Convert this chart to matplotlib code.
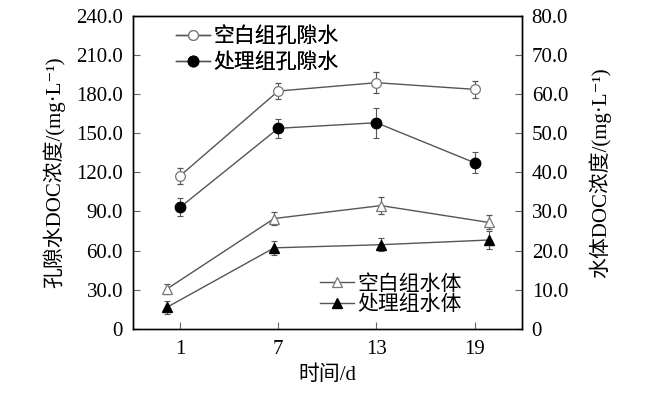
import matplotlib
matplotlib.use("Agg")
import matplotlib.pyplot as plt

plt.rcParams['font.family'] = ['Liberation Serif', 'Noto Sans CJK SC', 'DejaVu Serif']
plt.rcParams['font.size'] = 15

# data
days = [1, 7, 13, 19]
days_water = [0.2, 6.75, 13.28, 19.86]

blank_pore = [117.4, 182.4, 188.8, 183.7]
blank_pore_err = [6.1, 6.4, 8.1, 6.4]
treat_pore = [93.2, 153.8, 158.1, 127.4]
treat_pore_err = [6.8, 7.2, 11.5, 8.1]

blank_water = [10.2, 28.2, 31.5, 27.2]
blank_water_err = [1.2, 1.7, 2.2, 1.8]
treat_water = [5.5, 20.7, 21.5, 22.7]
treat_water_err = [1.6, 1.8, 1.6, 2.4]

left_ticks = [0, 30, 60, 90, 120, 150, 180, 210, 240]
left_labels = ["0", "30.0", "60.0", "90.0", "120.0", "150.0", "180.0", "210.0", "240.0"]
right_ticks = [0, 10, 20, 30, 40, 50, 60, 70, 80]
right_labels = ["0", "10.0", "20.0", "30.0", "40.0", "50.0", "60.0", "70.0", "80.0"]

line_c = "#555555"
edge_c = "#777777"

fig = plt.figure(figsize=(6.46, 3.99), dpi=100)
ax = fig.add_axes([0.2054, 0.176, 0.6026, 0.784])
ax2 = ax.twinx()

eb = dict(ecolor=line_c, elinewidth=0.8, capsize=2.5, capthick=0.8)

h1 = ax.errorbar(days, blank_pore, yerr=blank_pore_err, color=line_c, lw=1,
                 marker="o", ms=7, mfc="white", mec=edge_c, mew=0.9, **eb)
h2 = ax.errorbar(days, treat_pore, yerr=treat_pore_err, color=line_c, lw=1,
                 marker="o", ms=7.5, mfc="black", mec="black", **eb)
h3 = ax2.errorbar(days_water, blank_water, yerr=blank_water_err, color=line_c, lw=1,
                  marker="^", ms=7.5, mfc="white", mec=edge_c, mew=0.9, **eb)
h4 = ax2.errorbar(days_water, treat_water, yerr=treat_water_err, color=line_c, lw=1,
                  marker="^", ms=7.5, mfc="black", mec="black", **eb)

ax.set_xlim(-1.9, 21.9)
ax.set_ylim(0, 240)
ax2.set_ylim(0, 80)
ax.set_xticks(days)
ax.set_xticklabels([str(d) for d in days])
ax.set_yticks(left_ticks)
ax.set_yticklabels(left_labels)
ax2.set_yticks(right_ticks)
ax2.set_yticklabels(right_labels)

ax.tick_params(axis="both", direction="in", length=5, width=0.8, color="#666666",
               labelsize=15, pad=7)
ax.tick_params(axis="x", pad=8)
ax2.tick_params(axis="y", direction="in", length=5, width=0.8, color="#666666",
                labelsize=15, pad=7)

for a in (ax, ax2):
    for s in a.spines.values():
        s.set_linewidth(1)
        s.set_color("black")
ax.spines["bottom"].set_color("#444444")

ax.set_xlabel("时间/d", fontsize=15, labelpad=5)
ax.set_ylabel("孔隙水DOC浓度/(mg·L⁻¹)", fontsize=15, labelpad=8)
ax2.set_ylabel("水体DOC浓度/(mg·L⁻¹)", fontsize=15, labelpad=15)

leg1 = ax.legend([h1[0], h2[0]], ["空白组孔隙水", "处理组孔隙水"], loc="upper left",
                 bbox_to_anchor=(0.085, 0.998), frameon=False, handlelength=1.6,
                 handletextpad=0.2, labelspacing=0.3, borderpad=0, fontsize=15)
ax.add_artist(leg1)
ax2.legend([h3[0], h4[0]], ["空白组水体", "处理组水体"], loc="lower left",
           bbox_to_anchor=(0.455, 0.01), frameon=False, handlelength=1.6,
           handletextpad=0.2, labelspacing=0.05, borderpad=0, fontsize=15)

fig.savefig("out.png", dpi=100)
